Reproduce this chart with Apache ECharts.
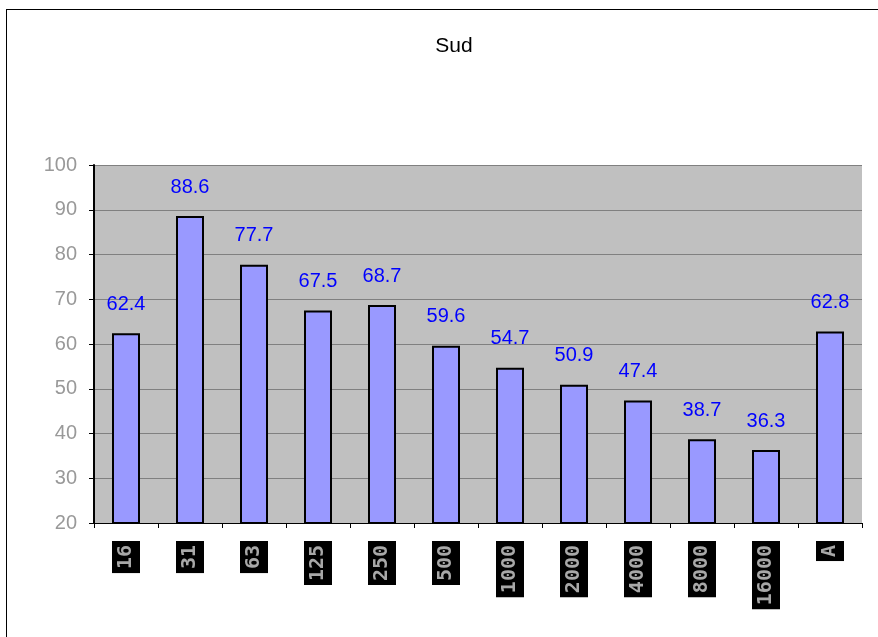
<!DOCTYPE html>
<html>
<head>
<meta charset="utf-8">
<script src="https://cdn.jsdelivr.net/npm/echarts@6/dist/echarts.min.js"></script>
<style>
html, body { margin: 0; padding: 0; background: #fff; }
#frame { position: absolute; left: 6px; top: 9px; width: 880px; height: 640px; border: 1px solid #000; box-sizing: border-box; }
#chart { width: 878px; height: 637px; }
</style>
</head>
<body>
<div id="frame"></div>
<div id="chart"></div>
<script>
var categories = ['16', '31', '63', '125', '250', '500', '1000', '2000', '4000', '8000', '16000', 'A'];
var values = [62.4, 88.6, 77.7, 67.5, 68.7, 59.6, 54.7, 50.9, 47.4, 38.7, 36.3, 62.8];
var yTicks = [20, 30, 40, 50, 60, 70, 80, 90, 100];

var myChart = echarts.init(document.getElementById('chart'));
var option = {
    animation: false,
    title: {
        text: 'Sud',
        left: 449,
        top: 31,
        textAlign: 'center',
        textStyle: {
            fontFamily: 'Liberation Sans',
            fontWeight: 'normal',
            fontSize: 21,
            color: '#000'
        }
    },
    grid: {
        left: 94,
        right: 16,
        top: 165,
        bottom: 114,
        show: true,
        backgroundColor: '#c0c0c0',
        borderWidth: 0
    },
    xAxis: {
        type: 'category',
        data: categories,
        axisLine: { lineStyle: { color: '#000', width: 1 } },
        axisTick: { show: true, length: 5, lineStyle: { color: '#000' } },
        axisLabel: {
            rotate: 90,
            margin: 18,
            color: '#a8a8a8',
            fontFamily: 'DejaVu Sans Mono',
            fontWeight: 'bold',
            fontSize: 20,
            lineHeight: 20,
            backgroundColor: '#000',
            padding: [4, 4, 4, 4]
        }
    },
    yAxis: {
        type: 'value',
        min: yTicks[0],
        max: yTicks[yTicks.length - 1],
        interval: 10,
        axisLine: { show: true, lineStyle: { color: '#000', width: 2 } },
        axisTick: { show: true, length: 5, lineStyle: { color: '#000' } },
        axisLabel: {
            color: '#999',
            fontFamily: 'Liberation Sans',
            fontSize: 20,
            margin: 17
        },
        splitLine: { show: true, lineStyle: { color: '#808080', width: 1 } }
    },
    series: [{
        type: 'bar',
        data: values,
        barWidth: 28,
        itemStyle: {
            color: '#9999ff',
            borderColor: '#000',
            borderWidth: 2
        },
        label: {
            show: true,
            position: 'top',
            distance: 19,
            color: '#0000ff',
            fontFamily: 'Liberation Sans',
            fontSize: 20
        }
    }]
};
myChart.setOption(option);
</script>
</body>
</html>
